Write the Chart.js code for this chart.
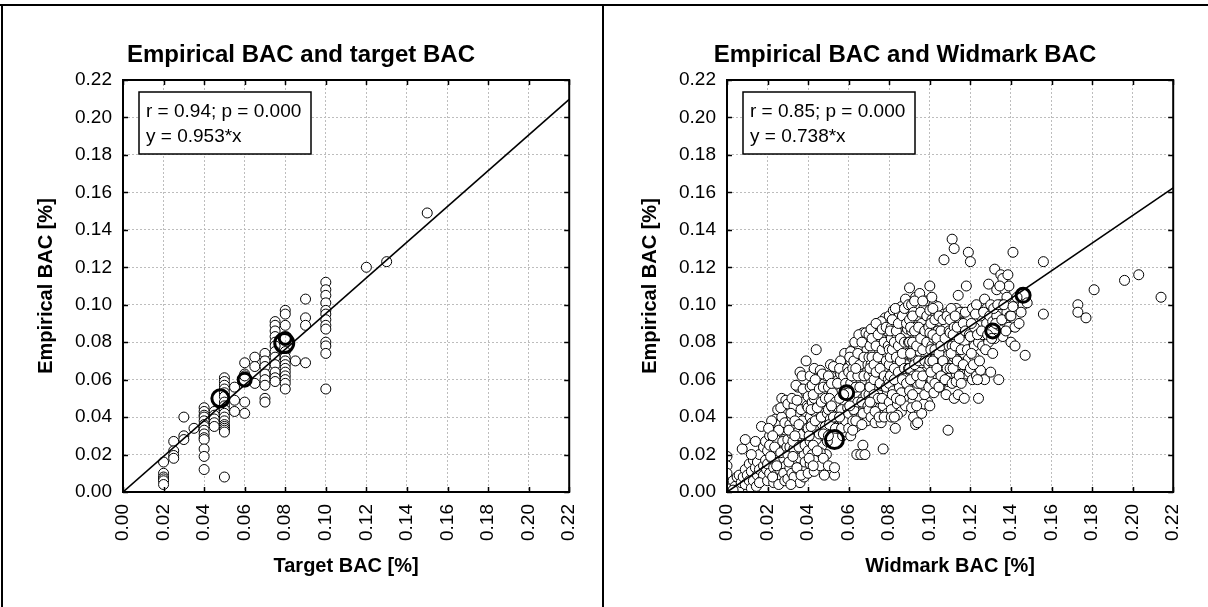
<!DOCTYPE html>
<html>
<head>
<meta charset="utf-8">
<script src="https://cdn.jsdelivr.net/npm/chart.js@4.4.1/dist/chart.umd.min.js"></script>
<style>
  body { margin: 0; background: #fff; }
  #page { position: relative; width: 1208px; height: 607px; overflow: hidden; background: #fff; }
  .panel { position: absolute; top: 0; width: 604px; height: 607px; }
  .line { position: absolute; background: #000; }
</style>
</head>
<body>
<div id="page">
  <canvas id="chartTarget" class="panel" style="left:0" width="604" height="607"></canvas>
  <canvas id="chartWidmark" class="panel" style="left:604px" width="604" height="607"></canvas>
  <div class="line" style="left:0;top:4px;width:1208px;height:2px"></div>
  <div class="line" style="left:1px;top:4px;width:2px;height:603px"></div>
  <div class="line" style="left:602px;top:4px;width:2px;height:603px"></div>
</div>
<script>
// axis ticks (both axes, both panels)
const tickStep = 0.02;
const axisMax = 0.22;

// panel titles and fit text
const panelTitles = ["Empirical BAC and target BAC", "Empirical BAC and Widmark BAC"];
const xTitles = ["Target BAC [%]", "Widmark BAC [%]"];
const yTitle = "Empirical BAC [%]";
const statLines = [
  ["r = 0.94; p = 0.000", "y = 0.953*x"],
  ["r = 0.85; p = 0.000", "y = 0.738*x"]
];
const slopes = [0.953, 0.738];

// left panel: [target BAC, empirical BAC]
const targetPoints = [
  [0.02, 0.016], [0.02, 0.010], [0.02, 0.008], [0.02, 0.007], [0.02, 0.006], [0.02, 0.004],
  [0.025, 0.027], [0.025, 0.022], [0.025, 0.0195], [0.025, 0.018],
  [0.03, 0.040], [0.03, 0.030], [0.03, 0.028], [0.035, 0.034],
  [0.04, 0.045], [0.04, 0.043], [0.04, 0.041], [0.04, 0.040], [0.04, 0.038], [0.04, 0.036], [0.04, 0.035],
  [0.04, 0.033], [0.04, 0.031], [0.04, 0.029], [0.04, 0.028], [0.04, 0.023], [0.04, 0.019], [0.04, 0.012],
  [0.045, 0.043], [0.045, 0.041], [0.045, 0.039], [0.045, 0.037], [0.045, 0.035],
  [0.05, 0.061], [0.05, 0.059], [0.05, 0.057], [0.05, 0.055], [0.05, 0.053], [0.05, 0.051], [0.05, 0.048],
  [0.05, 0.046], [0.05, 0.044], [0.05, 0.042], [0.05, 0.040], [0.05, 0.038], [0.05, 0.036], [0.05, 0.035],
  [0.05, 0.034], [0.05, 0.033], [0.05, 0.032], [0.05, 0.008],
  [0.055, 0.056], [0.055, 0.049], [0.055, 0.043],
  [0.06, 0.069], [0.06, 0.063], [0.06, 0.062], [0.06, 0.048], [0.06, 0.042],
  [0.065, 0.072], [0.065, 0.067], [0.065, 0.058],
  [0.07, 0.074], [0.07, 0.070], [0.07, 0.067], [0.07, 0.063], [0.07, 0.060], [0.07, 0.057], [0.07, 0.050], [0.07, 0.048],
  [0.075, 0.091], [0.075, 0.089], [0.075, 0.086], [0.075, 0.083], [0.075, 0.080], [0.075, 0.078],
  [0.075, 0.075], [0.075, 0.072], [0.075, 0.068], [0.075, 0.064], [0.075, 0.061], [0.075, 0.059],
  [0.08, 0.097], [0.08, 0.095], [0.08, 0.089], [0.08, 0.075], [0.08, 0.072], [0.08, 0.070], [0.08, 0.068],
  [0.08, 0.066], [0.08, 0.064], [0.08, 0.062], [0.08, 0.060], [0.08, 0.058], [0.08, 0.055],
  [0.085, 0.070],
  [0.09, 0.103], [0.09, 0.093], [0.09, 0.089], [0.09, 0.069],
  [0.10, 0.112], [0.10, 0.108], [0.10, 0.105], [0.10, 0.101], [0.10, 0.097], [0.10, 0.095], [0.10, 0.092],
  [0.10, 0.089], [0.10, 0.087], [0.10, 0.080], [0.10, 0.078], [0.10, 0.074], [0.10, 0.055],
  [0.12, 0.120], [0.13, 0.123], [0.15, 0.149]
];
const targetMeans = [[0.048, 0.050], [0.060, 0.060], [0.0795, 0.0795], [0.080, 0.082]];

// right panel: [Widmark BAC, empirical BAC]
const widmarkPoints = [
  [0.000, 0.019], [0.000, 0.014], [0.000, 0.010], [0.001, 0.004], [0.002, 0.002], [0.003, 0.006], [0.004, 0.003],
  [0.005, 0.008], [0.006, 0.002], [0.006, 0.009], [0.007, 0.005], [0.0075, 0.023], [0.008, 0.008], [0.009, 0.028],
  [0.009, 0.004], [0.009, 0.012], [0.003, 0.001],
  [0.010, 0.009], [0.011, 0.006], [0.011, 0.015], [0.012, 0.002], [0.012, 0.011], [0.013, 0.017], [0.013, 0.006],
  [0.014, 0.013], [0.0145, 0.003], [0.015, 0.016], [0.015, 0.009], [0.016, 0.020], [0.016, 0.012], [0.017, 0.035],
  [0.017, 0.006], [0.018, 0.014], [0.018, 0.024], [0.018, 0.009], [0.019, 0.017], [0.019, 0.027], [0.0195, 0.012],
  [0.014, 0.027], [0.012, 0.020], [0.016, 0.005],
  [0.020, 0.006], [0.020, 0.015], [0.020, 0.022], [0.021, 0.030], [0.021, 0.010], [0.022, 0.018], [0.022, 0.026],
  [0.023, 0.013], [0.023, 0.032], [0.023, 0.005], [0.024, 0.020], [0.024, 0.039], [0.024, 0.009], [0.025, 0.025],
  [0.025, 0.016], [0.026, 0.030], [0.026, 0.012], [0.026, 0.036], [0.027, 0.022], [0.027, 0.050], [0.027, 0.008],
  [0.028, 0.018], [0.028, 0.028], [0.028, 0.042], [0.029, 0.049], [0.029, 0.014], [0.029, 0.033], [0.022, 0.038],
  [0.025, 0.044], [0.024, 0.028], [0.021, 0.025], [0.027, 0.040], [0.028, 0.010],
  [0.0205, 0.034], [0.0215, 0.019], [0.0225, 0.008], [0.0235, 0.024], [0.0245, 0.014], [0.0255, 0.033],
  [0.0265, 0.021], [0.0275, 0.027], [0.0285, 0.037], [0.0295, 0.024], [0.0225, 0.030], [0.0255, 0.004],
  [0.0285, 0.006], [0.0265, 0.045],
  [0.030, 0.020], [0.030, 0.047], [0.030, 0.007], [0.030, 0.028], [0.031, 0.036], [0.031, 0.013], [0.031, 0.024],
  [0.032, 0.010], [0.032, 0.031], [0.032, 0.040], [0.033, 0.017], [0.033, 0.046], [0.033, 0.008], [0.034, 0.027],
  [0.034, 0.035], [0.034, 0.021], [0.035, 0.056], [0.035, 0.012], [0.035, 0.041], [0.036, 0.064], [0.036, 0.030],
  [0.036, 0.005], [0.036, 0.018], [0.037, 0.048], [0.037, 0.025], [0.037, 0.062], [0.037, 0.013], [0.038, 0.035],
  [0.038, 0.043], [0.038, 0.008], [0.038, 0.020], [0.039, 0.070], [0.039, 0.053], [0.039, 0.029], [0.039, 0.040],
  [0.034, 0.057], [0.032, 0.050], [0.035, 0.032], [0.037, 0.038], [0.033, 0.023],
  [0.0305, 0.033], [0.0305, 0.016], [0.0315, 0.042], [0.0325, 0.027], [0.0325, 0.019], [0.0335, 0.038],
  [0.0345, 0.013], [0.0345, 0.049], [0.0355, 0.024], [0.0355, 0.036], [0.0365, 0.044], [0.0365, 0.009],
  [0.0375, 0.031], [0.0375, 0.055], [0.0385, 0.016], [0.0385, 0.025], [0.0395, 0.046], [0.0395, 0.034],
  [0.0315, 0.004], [0.0335, 0.030],
  [0.040, 0.010], [0.040, 0.045], [0.040, 0.022], [0.040, 0.034], [0.040, 0.051], [0.041, 0.027], [0.041, 0.040],
  [0.041, 0.015], [0.041, 0.062], [0.042, 0.031], [0.042, 0.048], [0.042, 0.037], [0.042, 0.020], [0.043, 0.066],
  [0.043, 0.043], [0.043, 0.026], [0.043, 0.011], [0.044, 0.076], [0.044, 0.053], [0.044, 0.034], [0.044, 0.017],
  [0.045, 0.047], [0.045, 0.039], [0.045, 0.023], [0.045, 0.060], [0.046, 0.030], [0.046, 0.044], [0.046, 0.014],
  [0.046, 0.065], [0.047, 0.036], [0.047, 0.052], [0.047, 0.025], [0.048, 0.009], [0.048, 0.042], [0.048, 0.058],
  [0.048, 0.031], [0.049, 0.048], [0.049, 0.020], [0.049, 0.062], [0.049, 0.037], [0.041, 0.056], [0.043, 0.050],
  [0.046, 0.021], [0.047, 0.063], [0.044, 0.028], [0.042, 0.057],
  [0.0405, 0.030], [0.0405, 0.018], [0.0415, 0.044], [0.0415, 0.035], [0.0425, 0.052], [0.0425, 0.025],
  [0.0435, 0.038], [0.0435, 0.060], [0.0445, 0.045], [0.0445, 0.022], [0.0455, 0.055], [0.0455, 0.031],
  [0.0465, 0.040], [0.0465, 0.048], [0.0475, 0.018], [0.0475, 0.056], [0.0485, 0.035], [0.0485, 0.050],
  [0.0495, 0.027], [0.0495, 0.042], [0.0475, 0.031], [0.0425, 0.014],
  [0.050, 0.044], [0.050, 0.014], [0.050, 0.030], [0.050, 0.056], [0.051, 0.068], [0.051, 0.039],
  [0.051, 0.050], [0.052, 0.062], [0.052, 0.035], [0.052, 0.045], [0.053, 0.009], [0.053, 0.013], [0.053, 0.056],
  [0.054, 0.066], [0.054, 0.041], [0.054, 0.050], [0.055, 0.060], [0.055, 0.034],
  [0.055, 0.045], [0.056, 0.053], [0.056, 0.063], [0.056, 0.039], [0.057, 0.030], [0.057, 0.057],
  [0.057, 0.048], [0.058, 0.074], [0.058, 0.066], [0.058, 0.043], [0.058, 0.035], [0.059, 0.060], [0.059, 0.040],
  [0.059, 0.032], [0.056, 0.070], [0.052, 0.053], [0.057, 0.038], [0.050, 0.062],
  [0.0505, 0.050], [0.0505, 0.036], [0.0515, 0.058], [0.0525, 0.040], [0.0525, 0.067], [0.0535, 0.048],
  [0.0535, 0.034], [0.0545, 0.058], [0.0555, 0.050], [0.0555, 0.066], [0.0565, 0.044], [0.0565, 0.034],
  [0.0575, 0.062], [0.0575, 0.052], [0.0585, 0.038], [0.0585, 0.058], [0.0595, 0.045], [0.0595, 0.066],
  [0.0515, 0.046], [0.0555, 0.040],
  [0.060, 0.064], [0.060, 0.042], [0.060, 0.034], [0.061, 0.058], [0.061, 0.070], [0.061, 0.046],
  [0.061, 0.030], [0.062, 0.066], [0.062, 0.038], [0.062, 0.076], [0.063, 0.061], [0.063, 0.049],
  [0.063, 0.043], [0.063, 0.072], [0.064, 0.020], [0.064, 0.056], [0.064, 0.068], [0.064, 0.035], [0.065, 0.078],
  [0.065, 0.062], [0.065, 0.046], [0.065, 0.052], [0.066, 0.020], [0.066, 0.073], [0.066, 0.058], [0.066, 0.040],
  [0.067, 0.085], [0.067, 0.025], [0.067, 0.066], [0.067, 0.050], [0.068, 0.020], [0.068, 0.080], [0.068, 0.060],
  [0.068, 0.045], [0.068, 0.070], [0.069, 0.076], [0.069, 0.055], [0.069, 0.064], [0.069, 0.038], [0.061, 0.075],
  [0.063, 0.080], [0.065, 0.084], [0.067, 0.042], [0.069, 0.083], [0.062, 0.033],
  [0.0605, 0.072], [0.0615, 0.062], [0.0625, 0.044], [0.0625, 0.070], [0.0635, 0.056], [0.0635, 0.038],
  [0.0645, 0.074], [0.0645, 0.062], [0.0645, 0.048], [0.0655, 0.068], [0.0655, 0.056], [0.0665, 0.080],
  [0.0665, 0.048], [0.0675, 0.062], [0.0675, 0.072], [0.0685, 0.052], [0.0685, 0.085], [0.0695, 0.068],
  [0.0695, 0.046], [0.0665, 0.036], [0.0635, 0.066], [0.0605, 0.046],
  [0.070, 0.072], [0.070, 0.052], [0.070, 0.062], [0.070, 0.084], [0.070, 0.044], [0.071, 0.078], [0.071, 0.058],
  [0.071, 0.068], [0.071, 0.040], [0.072, 0.082], [0.072, 0.064], [0.072, 0.049], [0.072, 0.074], [0.073, 0.086],
  [0.073, 0.056], [0.073, 0.037], [0.073, 0.070], [0.074, 0.060], [0.074, 0.080], [0.074, 0.045], [0.074, 0.066],
  [0.075, 0.076], [0.075, 0.052], [0.075, 0.088], [0.075, 0.071], [0.076, 0.037], [0.076, 0.063], [0.076, 0.082],
  [0.076, 0.057], [0.077, 0.023], [0.077, 0.074], [0.077, 0.046], [0.077, 0.068], [0.078, 0.093], [0.078, 0.078],
  [0.078, 0.060], [0.078, 0.050], [0.079, 0.086], [0.079, 0.065], [0.079, 0.072], [0.079, 0.042], [0.071, 0.087],
  [0.074, 0.090], [0.076, 0.091], [0.073, 0.043], [0.075, 0.040], [0.079, 0.054],
  [0.0705, 0.066], [0.0705, 0.078], [0.0705, 0.056], [0.0715, 0.048], [0.0715, 0.072], [0.0715, 0.082],
  [0.0725, 0.060], [0.0725, 0.068], [0.0725, 0.052], [0.0735, 0.078], [0.0735, 0.064], [0.0735, 0.090],
  [0.0745, 0.050], [0.0745, 0.072], [0.0745, 0.084], [0.0755, 0.058], [0.0755, 0.066], [0.0765, 0.076],
  [0.0765, 0.050], [0.0765, 0.087], [0.0775, 0.062], [0.0775, 0.080], [0.0785, 0.070], [0.0785, 0.056],
  [0.0785, 0.088], [0.0795, 0.078], [0.0795, 0.060], [0.0775, 0.040], [0.0705, 0.048],
  [0.080, 0.094], [0.080, 0.076], [0.080, 0.058], [0.080, 0.068], [0.080, 0.048], [0.081, 0.088], [0.081, 0.082],
  [0.081, 0.063], [0.081, 0.044], [0.082, 0.097], [0.082, 0.072], [0.082, 0.054], [0.082, 0.086], [0.083, 0.034],
  [0.083, 0.078], [0.083, 0.066], [0.083, 0.092], [0.084, 0.060], [0.084, 0.083], [0.084, 0.047], [0.084, 0.070],
  [0.085, 0.095], [0.085, 0.075], [0.085, 0.056], [0.085, 0.087], [0.086, 0.066], [0.086, 0.080], [0.086, 0.043],
  [0.086, 0.099], [0.087, 0.072], [0.087, 0.090], [0.087, 0.061], [0.087, 0.050], [0.088, 0.103], [0.088, 0.084],
  [0.088, 0.068], [0.088, 0.077], [0.089, 0.094], [0.089, 0.057], [0.089, 0.074], [0.089, 0.087], [0.081, 0.040],
  [0.084, 0.041], [0.086, 0.053], [0.088, 0.046], [0.083, 0.098],
  [0.0805, 0.072], [0.0805, 0.086], [0.0805, 0.062], [0.0815, 0.092], [0.0815, 0.076], [0.0815, 0.052],
  [0.0825, 0.066], [0.0825, 0.080], [0.0825, 0.060], [0.0835, 0.086], [0.0835, 0.072], [0.0835, 0.050],
  [0.0845, 0.090], [0.0845, 0.078], [0.0845, 0.064], [0.0855, 0.082], [0.0855, 0.070], [0.0855, 0.049],
  [0.0865, 0.094], [0.0865, 0.074], [0.0865, 0.060], [0.0875, 0.080], [0.0875, 0.098], [0.0875, 0.066],
  [0.0885, 0.090], [0.0885, 0.058], [0.0895, 0.080], [0.0895, 0.066], [0.0895, 0.100], [0.0825, 0.040],
  [0.090, 0.109], [0.090, 0.080], [0.090, 0.066], [0.090, 0.092], [0.090, 0.054], [0.091, 0.100], [0.091, 0.073],
  [0.091, 0.086], [0.091, 0.045], [0.092, 0.096], [0.092, 0.062], [0.092, 0.078], [0.092, 0.040], [0.093, 0.036],
  [0.093, 0.088], [0.093, 0.070], [0.093, 0.104], [0.094, 0.082], [0.094, 0.058], [0.094, 0.094], [0.095, 0.106],
  [0.095, 0.075], [0.095, 0.064], [0.095, 0.050], [0.096, 0.090], [0.096, 0.084], [0.096, 0.069], [0.096, 0.042],
  [0.097, 0.098], [0.097, 0.078], [0.097, 0.057], [0.098, 0.102], [0.098, 0.087], [0.098, 0.072], [0.098, 0.062],
  [0.099, 0.094], [0.099, 0.080], [0.099, 0.048], [0.094, 0.037], [0.097, 0.047],
  [0.0905, 0.088], [0.0905, 0.074], [0.0905, 0.060], [0.0915, 0.094], [0.0915, 0.080], [0.0915, 0.052],
  [0.0925, 0.068], [0.0925, 0.086], [0.0925, 0.102], [0.0935, 0.078], [0.0935, 0.062], [0.0935, 0.046],
  [0.0945, 0.088], [0.0945, 0.070], [0.0955, 0.096], [0.0955, 0.082], [0.0955, 0.058], [0.0965, 0.076],
  [0.0965, 0.062], [0.0965, 0.102], [0.0975, 0.086], [0.0975, 0.070], [0.0975, 0.052], [0.0985, 0.080],
  [0.0985, 0.094], [0.0995, 0.068], [0.0995, 0.088], [0.0995, 0.056],
  [0.100, 0.110], [0.100, 0.046], [0.100, 0.085], [0.100, 0.070], [0.100, 0.097], [0.101, 0.078], [0.101, 0.060],
  [0.101, 0.092], [0.102, 0.100], [0.102, 0.066], [0.102, 0.082], [0.102, 0.053], [0.103, 0.088], [0.103, 0.074],
  [0.103, 0.095], [0.104, 0.062], [0.104, 0.080], [0.104, 0.099], [0.105, 0.070], [0.105, 0.091], [0.105, 0.056],
  [0.106, 0.084], [0.106, 0.077], [0.106, 0.064], [0.107, 0.124], [0.107, 0.095], [0.107, 0.069], [0.108, 0.052],
  [0.108, 0.088], [0.108, 0.080], [0.109, 0.033], [0.109, 0.073], [0.109, 0.096], [0.109, 0.059], [0.101, 0.104],
  [0.104, 0.086],
  [0.1005, 0.090], [0.1005, 0.076], [0.1005, 0.064], [0.1015, 0.098], [0.1015, 0.084], [0.1015, 0.070],
  [0.1025, 0.058], [0.1025, 0.076], [0.1025, 0.092], [0.1035, 0.066], [0.1035, 0.082], [0.1045, 0.094],
  [0.1045, 0.074], [0.1045, 0.056], [0.1055, 0.086], [0.1055, 0.078], [0.1055, 0.062], [0.1065, 0.092],
  [0.1065, 0.070], [0.1075, 0.082], [0.1075, 0.060], [0.1085, 0.094], [0.1085, 0.066], [0.1095, 0.086],
  [0.1095, 0.078],
  [0.110, 0.085], [0.110, 0.066], [0.110, 0.092], [0.111, 0.135], [0.111, 0.078], [0.111, 0.058], [0.112, 0.130],
  [0.112, 0.050], [0.112, 0.088], [0.112, 0.072], [0.113, 0.098], [0.113, 0.063], [0.113, 0.082], [0.114, 0.105],
  [0.114, 0.076], [0.114, 0.052], [0.115, 0.090], [0.115, 0.068], [0.116, 0.061], [0.116, 0.085], [0.116, 0.096],
  [0.117, 0.050], [0.117, 0.074], [0.117, 0.080], [0.118, 0.110], [0.118, 0.063], [0.118, 0.089], [0.119, 0.128],
  [0.119, 0.071], [0.119, 0.093], [0.113, 0.059], [0.115, 0.096],
  [0.1105, 0.074], [0.1105, 0.098], [0.1115, 0.084], [0.1115, 0.066], [0.1125, 0.094], [0.1125, 0.078],
  [0.1135, 0.070], [0.1135, 0.088], [0.1145, 0.062], [0.1145, 0.082], [0.1155, 0.076], [0.1155, 0.058],
  [0.1165, 0.090], [0.1165, 0.068], [0.1175, 0.086], [0.1175, 0.096], [0.1185, 0.076], [0.1195, 0.084],
  [0.1195, 0.064],
  [0.120, 0.123], [0.120, 0.066], [0.120, 0.083], [0.121, 0.098], [0.121, 0.060], [0.122, 0.078], [0.122, 0.088],
  [0.123, 0.062], [0.123, 0.100], [0.124, 0.050], [0.124, 0.080], [0.125, 0.094], [0.125, 0.065], [0.126, 0.084],
  [0.126, 0.078], [0.127, 0.060], [0.127, 0.103], [0.128, 0.090], [0.128, 0.098], [0.129, 0.080], [0.129, 0.111],
  [0.122, 0.072],
  [0.1205, 0.090], [0.1205, 0.074], [0.1215, 0.068], [0.1225, 0.095], [0.1235, 0.084], [0.1245, 0.070],
  [0.1255, 0.086], [0.1265, 0.096], [0.1275, 0.076], [0.1285, 0.084], [0.1295, 0.094], [0.1235, 0.060],
  [0.130, 0.064], [0.130, 0.100], [0.131, 0.091], [0.131, 0.074], [0.132, 0.119], [0.132, 0.082], [0.133, 0.108],
  [0.133, 0.094], [0.134, 0.060], [0.134, 0.089], [0.135, 0.116], [0.135, 0.100], [0.136, 0.114], [0.136, 0.083],
  [0.137, 0.091], [0.137, 0.108], [0.138, 0.104], [0.138, 0.096], [0.139, 0.110], [0.139, 0.088],
  [0.1305, 0.082], [0.1315, 0.098], [0.1325, 0.090], [0.1335, 0.100], [0.1345, 0.110], [0.1355, 0.092],
  [0.1365, 0.100], [0.1375, 0.086], [0.1385, 0.116], [0.1395, 0.094],
  [0.140, 0.080], [0.140, 0.094], [0.141, 0.128], [0.141, 0.099], [0.142, 0.078], [0.142, 0.088], [0.143, 0.104],
  [0.144, 0.090], [0.146, 0.100], [0.147, 0.073], [0.148, 0.101], [0.145, 0.096],
  [0.156, 0.123], [0.156, 0.095], [0.173, 0.100], [0.173, 0.096], [0.177, 0.093], [0.181, 0.108],
  [0.196, 0.113], [0.203, 0.116], [0.214, 0.104]
];
const widmarkMeans = [[0.053, 0.028], [0.059, 0.053], [0.131, 0.086], [0.146, 0.105]];

const FONT = "'Liberation Sans', Arial, Helvetica, sans-serif";

const toXY = (pairs) => pairs.map(p => ({ x: p[0], y: p[1] }));

// plot box, inward ticks and the r/p box
const framePlugin = {
  id: "frame",
  afterDatasetsDraw (chart) {
    const { ctx, chartArea: a, scales } = chart;
    ctx.save();
    ctx.strokeStyle = "#000";
    ctx.lineWidth = 2;
    ctx.strokeRect(a.left, a.top, a.right - a.left, a.bottom - a.top);
    ctx.lineWidth = 1.5;
    ctx.beginPath();
    scales.x.ticks.forEach(t => {
      const px = Math.round(scales.x.getPixelForValue(t.value)) + 0.5;
      ctx.moveTo(px, a.bottom); ctx.lineTo(px, a.bottom - 5);
      ctx.moveTo(px, a.top); ctx.lineTo(px, a.top + 5);
    });
    scales.y.ticks.forEach(t => {
      const py = Math.round(scales.y.getPixelForValue(t.value)) + 0.5;
      ctx.moveTo(a.left, py); ctx.lineTo(a.left + 5, py);
      ctx.moveTo(a.right, py); ctx.lineTo(a.right - 5, py);
    });
    ctx.stroke();

    const lines = chart.options.plugins.frame.lines;
    const bx = a.left + 16, by = a.top + 12;
    ctx.fillStyle = "#fff";
    ctx.fillRect(bx, by, 172, 62);
    ctx.lineWidth = 1.5;
    ctx.strokeRect(bx, by, 172, 62);
    ctx.fillStyle = "#000";
    ctx.font = "19px " + FONT;
    ctx.textBaseline = "middle";
    ctx.textAlign = "left";
    ctx.fillText(lines[0], bx + 7, by + 20);
    ctx.fillText(lines[1], bx + 7, by + 45);
    ctx.restore();
  }
};

function makePanel (canvasId, idx, points, means) {
  const slope = slopes[idx];
  return new Chart(document.getElementById(canvasId), {
    data: {
      datasets: [
        {
          type: "line",
          data: [{ x: 0, y: 0 }, { x: axisMax, y: slope * axisMax }],
          borderColor: "#000",
          borderWidth: 1.6,
          pointRadius: 0,
          order: 0
        },
        {
          type: "scatter",
          data: toXY(points),
          backgroundColor: "#fff",
          borderColor: "#000",
          borderWidth: 1,
          pointRadius: 5,
          order: 2
        },
        {
          type: "scatter",
          data: toXY(means),
          backgroundColor: "rgba(255,255,255,0)",
          borderColor: "#000",
          borderWidth: 3,
          pointRadius: idx === 0 ? [8.5, 6.5, 9.5, 6] : [9, 7, 7, 7],
          order: 1
        }
      ]
    },
    options: {
      responsive: false,
      animation: false,
      events: [],
      layout: { padding: { left: 30, right: 32, top: 20, bottom: 20 } },
      plugins: {
        legend: { display: false },
        tooltip: { enabled: false },
        title: {
          display: true,
          text: panelTitles[idx],
          color: "#000",
          font: { family: FONT, size: 24, weight: "bold" },
          padding: { top: 21, bottom: 10.2 }
        },
        frame: { lines: statLines[idx] }
      },
      scales: {
        x: {
          type: "linear",
          min: 0,
          max: axisMax,
          afterFit: (s) => { s.height = 95; },
          ticks: {
            stepSize: tickStep,
            minRotation: 90,
            maxRotation: 90,
            padding: 12,
            color: "#000",
            font: { family: FONT, size: 19 },
            callback: (v) => v.toFixed(2)
          },
          grid: { color: "#bdbdbd", lineWidth: 1, drawTicks: false },
          border: { display: true, color: "#000", width: 2, dash: [2, 2] },
          title: {
            display: true,
            text: xTitles[idx],
            color: "#000",
            font: { family: FONT, size: 20, weight: "bold" },
            padding: { top: 0, bottom: 9 }
          }
        },
        y: {
          type: "linear",
          min: 0,
          max: axisMax,
          afterFit: (s) => { s.width = 93; },
          ticks: {
            stepSize: tickStep,
            padding: 11,
            color: "#000",
            font: { family: FONT, size: 19 },
            callback: (v) => v.toFixed(2)
          },
          grid: { color: "#bdbdbd", lineWidth: 1, drawTicks: false },
          border: { display: true, color: "#000", width: 2, dash: [2, 2] },
          title: {
            display: true,
            text: yTitle,
            color: "#000",
            font: { family: FONT, size: 20, weight: "bold" },
            padding: { top: 4, bottom: 0 }
          }
        }
      }
    },
    plugins: [framePlugin]
  });
}

makePanel("chartTarget", 0, targetPoints, targetMeans);
makePanel("chartWidmark", 1, widmarkPoints, widmarkMeans);
</script>
</body>
</html>
